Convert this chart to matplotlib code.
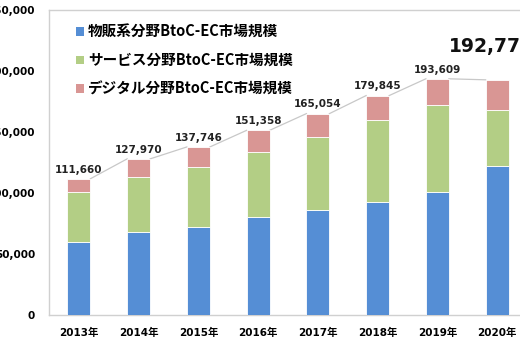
import matplotlib
matplotlib.use("Agg")
import matplotlib.pyplot as plt
from matplotlib.patches import Patch
import numpy as np

plt.rcParams['font.family'] = ['DejaVu Sans', 'Noto Sans CJK JP']

years = ["2013年", "2014年", "2015年", "2016年", "2017年", "2018年", "2019年", "2020年"]
goods = [59931, 68043, 72398, 80043, 86008, 92992, 100515, 122333]
services = [40869, 44816, 49014, 53532, 59568, 66471, 71672, 45832]
digital = [10860, 15111, 16334, 17782, 19478, 20382, 21422, 24614]
totals = [111660, 127970, 137746, 151358, 165054, 179845, 193609, 192779]
series_names = ["物販系分野BtoC-EC市場規模", "サービス分野BtoC-EC市場規模", "デジタル分野BtoC-EC市場規模"]
colors = ["#558ED5", "#B3CE85", "#D99694"]
yticks = [0, 50000, 100000, 150000, 200000, 250000]

fig = plt.figure(figsize=(5.2, 3.6), dpi=100)
ax = fig.add_axes([49/520, 1-315/360, (527-49)/520, (315-10)/360])

x = np.arange(len(years))
w = 0.385
g = np.array(goods); s = np.array(services); d = np.array(digital)
ax.bar(x, g, w, color=colors[0], edgecolor="white", linewidth=0.6, zorder=3)
ax.bar(x, s, w, bottom=g, color=colors[1], edgecolor="white", linewidth=0.6, zorder=3)
ax.bar(x, d, w, bottom=g+s, color=colors[2], edgecolor="white", linewidth=0.6, zorder=3)

# series lines
for i in range(len(x)-1):
    ax.plot([x[i]+w/2, x[i+1]-w/2], [totals[i], totals[i+1]], color="#C8C8C8", lw=0.9, zorder=2)

for i, t in enumerate(totals):
    if i == len(totals)-1:
        ax.annotate(f"{t:,}", (x[i], t), xytext=(-4, 17), textcoords="offset points",
                    ha="center", va="bottom", fontsize=13.5, fontweight="bold", color="#111111")
    else:
        ax.annotate(f"{t:,}", (x[i], t), xytext=(0, 3), textcoords="offset points",
                    ha="center", va="bottom", fontsize=7.5, fontweight="bold", color="#222222")

ax.set_xlim(-0.5, 7.5)
ax.set_ylim(0, 250000)
ax.set_xticks(x)
ax.set_xticklabels(years, fontsize=7.5, fontweight="bold")
ax.set_yticks(yticks)
ax.set_yticklabels([f"{v:,}" for v in yticks], fontsize=7.5, fontweight="bold")
ax.tick_params(axis="both", length=0)
ax.tick_params(axis="y", pad=10)
ax.tick_params(axis="x", pad=9)
for sp in ax.spines.values():
    sp.set_color("#D0D0D0")
    sp.set_linewidth(1.0)

handles = [Patch(facecolor=c, edgecolor="none") for c in colors]
leg = ax.legend(handles, series_names, loc="upper left", bbox_to_anchor=(0.028, 0.998),
                frameon=False, handlelength=0.55, handleheight=0.55, handletextpad=0.3,
                labelspacing=0.85, prop={"family": ['Noto Sans CJK JP'], "weight": "bold", "size": 10.5})

fig.savefig("out.png", dpi=100)
